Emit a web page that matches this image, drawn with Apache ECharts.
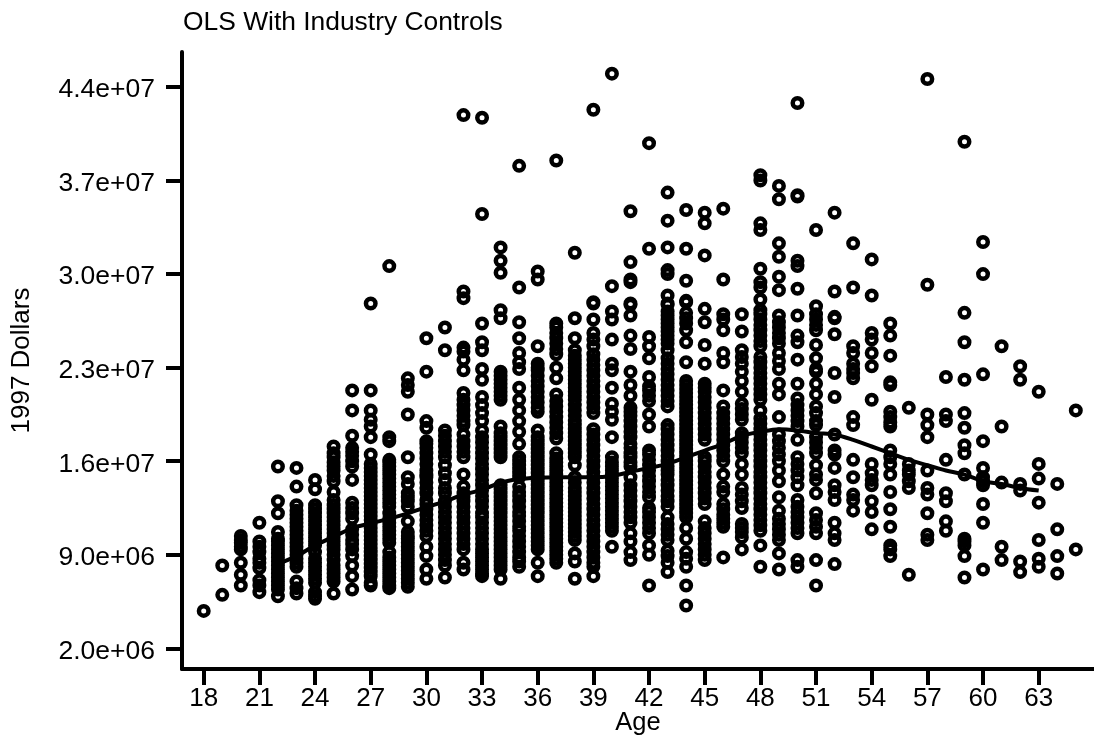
<!DOCTYPE html>
<html>
<head>
<meta charset="utf-8">
<style>html,body{margin:0;padding:0;background:#fff}#c{width:1094px;height:739px}</style>
<script src="https://cdn.jsdelivr.net/npm/echarts@6/dist/echarts.min.js"></script>
</head>
<body>
<div id="c"></div>
<script>
const titleText = "OLS With Industry Controls";
const xName = "Age";
const yName = "1997 Dollars";
const xTicks = [18,21,24,27,30,33,36,39,42,45,48,51,54,57,60,63];
const yTicks = [2000000,9000000,16000000,23000000,30000000,37000000,44000000];
const yTickLabels = ["2.0e+06","9.0e+06","1.6e+07","2.3e+07","3.0e+07","3.7e+07","4.4e+07"];
const fitAges = [22,23,24,25,26,27,28,29,30,31,32,33,34,35,36,37,38,39,40,41,42,43,44,45,46,47,48,49,50,51,52,53,54,55,56,57,58,59,60,61,62,63];
const fitMillions = [8.3,8.9,9.7,10.35,11.0,11.35,11.7,12.1,12.55,13.0,13.5,13.85,14.4,14.67,14.77,14.8,14.8,14.8,14.9,15.2,15.5,15.8,16.3,16.8,17.3,17.9,18.2,18.4,18.3,18.1,18.0,17.6,17.1,16.6,16.1,15.7,15.3,15.0,14.5,14.3,14.0,13.8];
// observed earnings by age, in millions of dollars
const age18=[4.8];
const age19=[6.0,8.2];
const age20=[6.7,7.5,8.4,9.4,9.6,9.9,10.1,10.4];
const age21=[6.2,6.7,7.1,8.0,8.4,8.7,9.2,9.6,10.0,11.4];
const age22=[5.9,6.4,6.7,7.0,7.3,7.6,7.9,8.2,8.5,8.8,9.1,9.4,9.7,10.0,10.2,10.7,12.1,13.0,15.6];
const age23=[6.1,6.5,7.0,8.1,8.4,8.7,9.0,9.3,9.6,9.9,10.2,10.5,10.8,11.1,11.4,11.7,12.0,12.3,12.7,14.1,15.5];
const age24=[5.7,5.9,6.2,6.9,7.2,7.5,7.8,8.1,8.4,8.7,9.2,9.7,10.0,10.3,10.6,10.9,11.2,11.5,11.8,12.1,12.4,12.7,13.9,14.6];
const age25=[6.1,7.0,7.3,7.6,7.9,8.2,8.6,9.0,9.4,9.7,10.0,10.3,10.6,10.9,11.2,11.5,11.8,12.1,12.4,12.7,13.1,13.7,14.5,14.9,15.3,15.6,15.9,16.3,16.6,17.1];
const age26=[6.4,7.4,8.2,8.9,9.4,9.8,10.1,10.5,10.9,11.7,12.1,12.5,12.9,14.6,15.6,16.0,16.4,16.7,17.0,17.9,19.8,21.3];
const age27=[6.7,6.9,7.4,7.7,8.0,8.3,8.6,8.9,9.2,9.5,9.8,10.1,10.4,10.7,11.0,11.3,11.6,11.9,12.2,12.5,12.8,13.1,13.4,13.7,14.0,14.3,14.6,14.9,15.2,15.5,15.8,16.5,17.8,18.6,19.1,19.8,21.3,27.8];
const age28=[6.5,6.7,7.0,7.3,7.6,7.9,8.2,8.5,8.8,9.2,9.9,10.2,10.5,10.8,11.1,11.4,11.7,12.1,12.6,12.9,13.2,13.5,13.8,14.1,14.4,14.7,15.0,15.3,15.6,15.9,16.1,17.5,17.8,30.6];
const age29=[6.6,6.9,7.2,7.5,7.8,8.1,8.4,8.7,9.0,9.3,9.6,9.9,10.2,10.4,10.7,11.5,12.6,13.0,13.3,13.6,14.3,14.8,16.3,19.5,21.2,21.7,22.2];
const age30=[7.2,7.9,8.9,9.6,10.4,10.8,11.2,11.6,12.0,12.4,12.8,13.1,13.6,14.0,14.4,14.8,15.0,15.3,15.8,16.2,16.6,17.0,17.3,17.5,18.5,19.0,22.7,25.2];
const age31=[7.3,8.2,8.6,9.0,9.4,9.8,10.2,10.6,11.0,11.4,11.8,12.2,12.6,13.0,13.6,14.0,14.6,15.1,15.7,16.3,16.7,17.1,17.5,17.9,18.3,24.3,26.0];
const age32=[7.9,8.4,9.4,9.8,10.2,10.6,11.0,11.4,11.8,12.2,12.6,13.0,13.3,13.6,14.1,15.0,16.3,16.7,17.1,17.5,18.0,18.7,19.0,19.4,19.8,20.2,20.6,21.1,22.8,23.6,24.2,24.5,28.2,28.7,41.9];
const age33=[7.4,7.6,7.9,8.2,8.5,8.8,9.1,9.4,9.8,10.2,10.6,11.0,11.4,11.8,12.1,12.6,13.0,13.4,13.8,14.2,14.6,15.0,15.4,15.8,16.2,16.6,17.0,17.4,17.8,18.3,19.0,19.6,20.2,20.8,22.1,22.9,24.3,24.9,26.3,34.5,41.7];
const age34=[7.2,7.9,8.2,8.5,8.8,9.1,9.4,9.7,10.0,10.3,10.6,10.9,11.2,11.5,11.8,12.1,12.4,12.7,13.0,13.3,13.6,13.9,14.2,16.3,16.6,16.9,17.2,17.5,17.8,18.1,18.6,20.6,20.9,21.2,21.5,21.8,22.1,22.4,22.7,26.7,27.3,30.1,31.0,32.0];
const age35=[8.1,8.5,8.8,9.2,9.6,10.0,10.4,10.8,11.1,11.5,11.9,12.2,12.6,13.0,13.4,13.7,14.1,14.8,15.1,15.4,15.7,16.0,16.3,17.3,18.2,19.0,19.8,20.6,21.5,22.9,23.4,24.1,25.2,26.4,29.0,38.1];
const age36=[7.4,8.4,9.4,9.7,10.0,10.3,10.6,10.9,11.2,11.5,11.8,12.1,12.4,12.7,13.0,13.3,13.6,13.9,14.2,14.5,14.8,15.1,15.4,15.7,16.0,16.3,16.6,16.9,17.2,17.5,17.8,18.3,19.7,20.0,20.4,20.8,21.2,21.6,22.0,22.4,22.8,23.0,23.3,24.6,29.6,30.2];
const age37=[8.4,8.7,9.0,9.3,9.6,9.9,10.2,10.5,10.8,11.1,11.4,11.7,12.0,12.3,12.6,12.9,13.2,13.5,13.8,14.1,14.4,14.7,15.0,15.3,15.6,15.9,16.2,16.6,17.7,18.1,18.5,18.9,19.3,19.7,20.1,20.5,21.0,22.2,23.0,24.0,24.4,24.8,25.2,25.6,26.0,26.3,38.5];
const age38=[7.2,8.5,9.1,10.1,10.4,10.7,11.0,11.3,11.6,11.9,12.2,12.5,12.8,13.1,13.4,13.7,14.0,14.4,14.8,15.7,16.3,16.6,16.9,17.2,17.5,17.8,18.1,18.4,18.7,19.0,19.4,19.8,20.2,20.6,20.9,21.2,21.5,21.8,22.1,22.4,22.7,23.0,23.3,23.6,23.9,24.3,25.2,26.7,31.6];
const age39=[7.4,8.1,8.4,8.8,9.2,9.6,10.0,10.4,10.8,11.2,11.6,12.0,12.4,12.8,13.2,13.6,14.0,14.4,14.8,15.2,15.6,16.0,16.4,16.8,17.2,17.6,18.0,18.4,19.6,20.0,20.4,20.8,21.2,21.6,22.0,22.4,22.8,23.2,23.6,24.0,24.6,25.1,25.6,26.6,27.8,27.9,42.3];
const age40=[9.6,10.8,11.1,11.4,11.7,12.0,12.3,12.6,12.9,13.2,13.5,13.8,14.1,14.4,14.7,15.0,15.3,15.6,15.9,16.3,17.8,19.1,19.7,20.3,21.5,22.8,23.3,25.1,26.6,27.2,29.1,45.0];
const age41=[8.6,9.2,10.0,10.6,11.4,11.8,12.2,12.6,13.0,13.4,13.8,14.2,14.8,15.6,15.9,16.3,16.6,17.0,17.3,17.8,18.2,18.6,19.0,19.4,19.7,20.0,20.9,21.7,22.7,24.4,25.4,26.9,27.7,27.8,29.4,29.6,30.9,34.7];
const age42=[6.7,9.0,9.7,10.6,11.0,11.4,11.8,12.2,12.5,13.3,13.7,14.1,14.5,14.9,15.3,15.7,16.1,16.5,16.8,18.6,19.5,20.5,20.9,21.3,21.6,22.3,23.7,24.6,25.3,31.9,39.8];
const age43=[7.7,8.4,8.9,9.3,10.1,10.5,10.9,11.3,11.8,12.6,13.0,13.4,13.8,14.2,14.6,15.0,15.3,15.6,16.0,16.4,16.8,17.2,17.6,18.0,18.4,18.7,20.1,20.5,20.9,21.3,21.7,22.1,22.5,22.9,23.3,23.7,24.3,24.8,25.1,25.4,25.7,26.0,26.3,26.6,26.9,27.2,27.7,27.8,28.4,30.0,30.3,32.0,34.0,36.1];
const age44=[5.2,6.7,8.1,8.7,9.2,10.2,11.0,11.8,12.1,12.4,12.7,13.0,13.3,13.6,13.9,14.2,14.5,14.8,15.1,15.4,15.7,16.0,16.3,16.6,16.9,17.2,17.5,17.8,18.1,18.4,18.7,19.0,19.3,19.6,19.9,20.2,20.5,20.8,21.1,21.4,21.7,22.0,23.4,24.9,25.8,26.3,26.7,27.1,27.9,28.0,29.5,31.9,34.8];
const age45=[8.6,9.0,9.4,9.8,10.2,10.6,11.0,11.5,12.8,13.2,13.6,14.0,14.4,14.8,15.2,15.6,16.0,16.3,17.6,18.0,18.4,18.8,19.2,19.6,20.0,20.4,20.8,21.2,21.5,21.8,23.3,24.7,26.4,27.4,31.4,33.8,34.6];
const age46=[8.8,11.1,11.4,11.7,12.0,12.4,12.8,13.7,14.1,15.0,16.0,16.4,16.8,17.2,17.6,18.0,18.4,18.8,19.2,19.6,20.1,21.3,23.4,24.1,25.8,26.6,27.0,29.6,34.9];
const age47=[9.4,10.3,10.7,11.0,11.3,12.5,13.0,13.5,14.0,15.0,15.8,16.6,17.0,17.4,17.8,18.1,19.1,19.5,19.9,20.3,21.2,22.0,22.7,23.3,23.8,24.3,25.7,27.0];
const age48=[8.1,9.7,10.8,11.2,11.6,12.0,12.4,12.8,13.2,13.6,14.0,14.4,14.8,15.2,15.6,16.0,16.4,16.8,17.2,17.6,18.0,18.4,18.8,19.2,19.8,20.6,21.0,21.4,21.8,22.2,22.6,23.0,23.4,23.8,24.6,25.0,25.4,25.8,26.2,26.6,27.0,27.3,28.1,29.0,29.4,30.4,33.3,33.8,37.0,37.4];
const age49=[7.9,9.1,10.1,10.5,10.9,11.3,11.7,12.3,13.3,14.5,15.3,16.0,16.5,17.0,17.5,18.0,19.3,21.0,21.8,22.9,23.5,24.1,24.8,25.2,25.6,26.0,26.4,26.9,28.8,29.8,31.3,32.3,35.6,36.6];
const age50=[8.1,8.6,10.6,11.0,11.4,11.8,12.2,12.6,13.1,14.2,14.8,15.3,15.8,16.3,17.6,18.6,19.0,19.4,19.8,20.2,20.7,21.8,23.6,24.9,25.4,26.9,28.9,30.6,31.0,35.8,35.9,42.8];
const age51=[6.7,8.6,10.6,11.1,11.6,12.1,13.6,14.6,15.0,15.7,16.6,17.0,17.4,17.8,18.7,19.0,19.6,20.1,21.0,21.8,22.7,22.9,23.7,24.7,25.8,26.2,26.6,27.0,27.6,33.3];
const age52=[8.3,10.1,10.6,11.4,13.1,13.7,14.2,15.5,16.5,16.8,18.0,20.8,22.6,25.5,26.7,26.8,28.7,34.6];
const age53=[12.3,13.1,13.5,14.8,16.1,18.7,19.3,22.2,22.6,22.9,23.3,24.1,24.6,29.0,32.3];
const age54=[10.9,12.2,13.0,14.2,14.6,15.1,15.8,20.6,23.1,24.1,25.1,25.6,28.4,31.1];
const age55=[8.9,9.4,9.7,11.1,12.4,13.7,15.0,15.8,16.3,16.8,18.6,18.9,19.3,19.7,21.7,21.9,23.9,25.4,26.3];
const age56=[7.5,14.0,14.5,15.0,15.3,15.8,20.0];
const age57=[10.1,10.5,12.1,13.5,14.0,15.3,17.8,18.7,19.5,29.2,44.6];
const age58=[10.8,11.5,13.0,13.6,16.1,19.0,19.5,22.3];
const age59=[7.3,8.9,9.7,10.0,10.2,15.0,16.6,17.2,18.5,19.6,22.1,24.9,27.1,39.9];
const age60=[7.9,11.4,12.8,14.2,14.5,14.8,15.5,17.5,22.5,30.0,32.4];
const age61=[8.6,9.6,14.4,18.6,24.6];
const age62=[7.7,8.5,13.8,14.3,22.1,23.1];
const age63=[8.1,8.7,10.1,12.9,14.7,15.8,21.2];
const age64=[7.6,8.9,10.9,14.3];
const age65=[9.4,19.8];
const columns = {18:age18,19:age19,20:age20,21:age21,22:age22,23:age23,24:age24,25:age25,26:age26,27:age27,28:age28,29:age29,30:age30,31:age31,32:age32,33:age33,34:age34,35:age35,36:age36,37:age37,38:age38,39:age39,40:age40,41:age41,42:age42,43:age43,44:age44,45:age45,46:age46,47:age47,48:age48,49:age49,50:age50,51:age51,52:age52,53:age53,54:age54,55:age55,56:age56,57:age57,58:age58,59:age59,60:age60,61:age61,62:age62,63:age63,64:age64,65:age65};
const unit = 1000000;
const points = [];
Object.keys(columns).forEach(a => columns[a].forEach(v => points.push([+a, v * unit])));
const fit = fitAges.map((a, i) => [a, fitMillions[i] * unit]);

const font = "Liberation Sans, Arial, sans-serif";
const chart = echarts.init(document.getElementById('c'), null, {renderer:'canvas'});
chart.setOption({
  animation:false,
  backgroundColor:'#fff',
  title:{text:titleText,left:183,top:10,padding:0,textStyle:{fontFamily:font,fontWeight:'normal',fontSize:26.4,color:'#000'}},
  grid:{left:182,right:0,top:52,bottom:70,containLabel:false,outerBoundsMode:'none'},
  xAxis:{type:'value',min:16.83,max:65.98,name:xName,nameLocation:'middle',nameGap:41,nameMoveOverlap:false,
    nameTextStyle:{fontFamily:font,fontSize:25.5,color:'#000'},
    axisLine:{show:true,onZero:false,lineStyle:{color:'#000',width:4}},
    axisTick:{show:true,customValues:xTicks,length:16,lineStyle:{color:'#000',width:4}},
    axisLabel:{customValues:xTicks,margin:17,fontFamily:font,fontSize:26,color:'#000',showMinLabel:true,showMaxLabel:true},
    splitLine:{show:false}},
  yAxis:{type:'value',min:451000,max:46620000,name:yName,nameLocation:'middle',nameGap:147,nameMoveOverlap:false,
    nameTextStyle:{fontFamily:font,fontSize:26,color:'#000'},
    axisLine:{show:true,onZero:false,lineStyle:{color:'#000',width:4}},
    axisTick:{show:true,customValues:yTicks,length:16,lineStyle:{color:'#000',width:4}},
    axisLabel:{customValues:yTicks,margin:27,verticalAlign:'top',lineHeight:6,fontFamily:font,fontSize:26.5,color:'#000',
      formatter:v=>yTickLabels[yTicks.indexOf(v)]},
    splitLine:{show:false}},
  series:[
    {type:'scatter',data:points,symbol:'circle',symbolSize:9.5,silent:true,
      itemStyle:{color:'rgba(0,0,0,0)',borderColor:'#000',borderWidth:4.5,opacity:1}},
    {type:'line',data:fit,showSymbol:false,smooth:0.3,silent:true,z:5,lineStyle:{color:'#000',width:4}}
  ]
});
</script>
</body>
</html>
